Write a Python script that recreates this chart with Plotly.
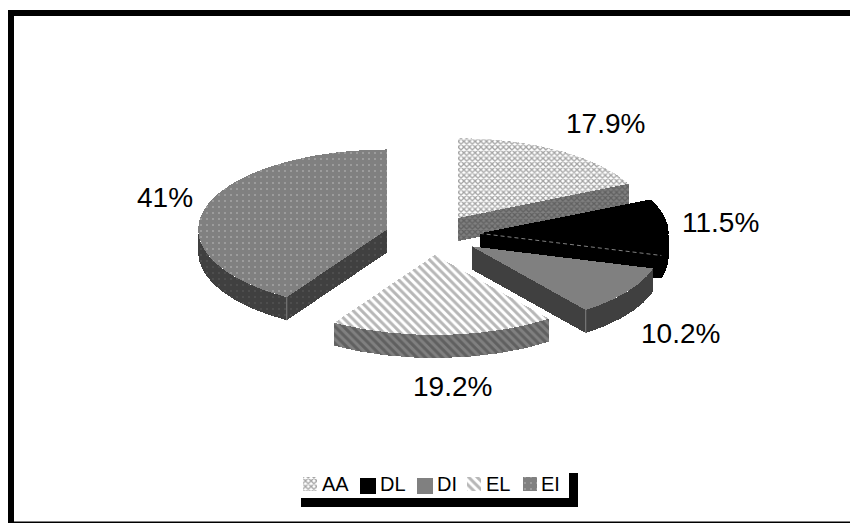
import numpy as np
import plotly.graph_objects as go

# Shares of each group, in percent, clockwise from twelve o'clock
categories = ["AA", "DL", "DI", "EL", "EI"]
values = [17.9, 11.5, 10.2, 19.2, 41]

# Tilted pie geometry, in axis units
CX, CY = 432.6, 235.0
RX, RY = 189.0, 80.0
DEPTH = 23.0
EXPLODE = 0.25
W, H = 850, 523

DARK, MID = "#404040", "#808080"

# Fill for the top face and the side walls of each slice
top_fill = {
    "AA": dict(fillcolor="#ffffff", fillpattern=dict(shape="x", bgcolor="#ffffff", fgcolor="#484848", size=4, solidity=0.55)),
    "DL": dict(fillcolor="#000000"),
    "DI": dict(fillcolor=MID),
    "EL": dict(fillcolor="#ffffff", fillpattern=dict(shape="\\", bgcolor="#ffffff", fgcolor="#707070", size=6, solidity=0.5)),
    "EI": dict(fillcolor=MID, fillpattern=dict(shape=".", bgcolor=MID, fgcolor="#ffffff", size=6, solidity=0.06)),
}
side_fill = {
    "AA": dict(fillcolor=MID, fillpattern=dict(shape="x", bgcolor=MID, fgcolor=DARK, size=4, solidity=0.55)),
    "DL": dict(fillcolor="#000000"),
    "DI": dict(fillcolor=DARK),
    "EL": dict(fillcolor=MID, fillpattern=dict(shape="\\", bgcolor=MID, fgcolor=DARK, size=6, solidity=0.5)),
    "EI": dict(fillcolor=DARK, fillpattern=dict(shape=".", bgcolor=DARK, fgcolor=MID, size=6, solidity=0.06)),
}

# Percent label centres and legend layout, in axis units
label_pos = {"AA": (605, 123), "DL": (720, 222), "DI": (680, 333), "EL": (452, 386), "EI": (165, 197)}
legend_keys = {"AA": (303, 477, 14), "DL": (360, 478, 16), "DI": (417, 478, 16), "EL": (467, 477, 14), "EI": (523, 477, 14)}
legend_text = {"AA": 320, "DL": 378, "DI": 435, "EL": 484, "EI": 539}

fig = go.Figure()


def poly(xs, ys, style):
    fig.add_trace(go.Scatter(x=list(xs), y=list(ys), mode="lines", fill="toself",
                             line=dict(width=0), hoverinfo="skip", showlegend=False, **style))


def edge(xs, ys, color, dash="solid"):
    fig.add_trace(go.Scatter(x=list(xs), y=list(ys), mode="lines", hoverinfo="skip", showlegend=False,
                             line=dict(width=1, color=color, dash=dash)))


def rim(theta, ax, ay):
    return ax + RX * np.sin(theta), ay - RY * np.cos(theta)


# Slice angles follow the values; every slice moves out along its bisector
total = sum(values)
edges = np.radians(np.cumsum([0] + values) / total * 360)
slices = []
for name, a0, a1 in zip(categories, edges[:-1], edges[1:]):
    mid = (a0 + a1) / 2
    ax = CX + EXPLODE * RX * np.sin(mid)
    ay = CY - EXPLODE * RY * np.cos(mid)
    slices.append((name, a0, a1, ax, ay))

# Back slices first so the nearer ones overlap them
order = ["EI", "AA", "DL", "DI", "EL"]
for name, a0, a1, ax, ay in sorted(slices, key=lambda s: order.index(s[0])):
    # Flat cut faces that look towards the viewer
    for a in (a0, a1):
        facing = (a == a1 and np.sin(a) > 0) or (a == a0 and np.sin(a) < 0)
        if facing:
            rx_, ry_ = rim(a, ax, ay)
            poly([ax, rx_, rx_, ax, ax], [ay, ry_, ry_ + DEPTH, ay + DEPTH, ay], side_fill[name])
    # Curved outer wall on the front half of the ellipse
    lo, hi = max(a0, np.pi / 2), min(a1, 3 * np.pi / 2)
    if hi > lo:
        t = np.linspace(lo, hi, 80)
        px, py = rim(t, ax, ay)
        poly(np.r_[px, px[::-1], px[0]], np.r_[py, py[::-1] + DEPTH, py[0]], side_fill[name])
    # Top face
    t = np.linspace(a0, a1, 120)
    px, py = rim(t, ax, ay)
    poly(np.r_[ax, px, ax], np.r_[ay, py, ay], top_fill[name])
    # Fine edges where a cut face meets the outer wall
    if name == "DL":
        ex, ey = rim(a1, ax, ay)
        edge([ax, ex], [ay, ey], MID, "4px,3px")
    if name == "DI":
        ex, ey = rim(a1, ax, ay)
        edge([ex, ex], [ey, ey + DEPTH], MID)
    if name == "EI":
        ex, ey = rim(a0, ax, ay)
        edge([ex, ex], [ey, ey + DEPTH], MID)

annotations = []
for name, v in zip(categories, values):
    x, y = label_pos[name]
    annotations.append(dict(x=x, y=y, text=f"{v}%", showarrow=False, xanchor="center", yanchor="middle",
                            font=dict(family="Liberation Sans", size=28, color="#000000")))
    # Legend swatch and its name
    kx, ky, ks = legend_keys[name]
    poly([kx, kx + ks, kx + ks, kx, kx], [ky, ky, ky + ks, ky + ks, ky], top_fill[name])
    annotations.append(dict(x=legend_text[name], y=484, text=name, showarrow=False, xanchor="left", yanchor="middle",
                            font=dict(family="Liberation Sans", size=20, color="#000000")))

black = dict(type="rect", xref="x", yref="y", fillcolor="#000000", line_width=0, layer="below")
shapes = [
    {**black, "x0": 8, "x1": 14, "y0": 10, "y1": 523},
    {**black, "x0": 8, "x1": 850, "y0": 10, "y1": 16},
    {**black, "x0": 8, "x1": 850, "y0": 521.5, "y1": 523},
    {**black, "x0": 301, "x1": 578, "y0": 498, "y1": 507},
    {**black, "x0": 569, "x1": 578, "y0": 473, "y1": 507},
]

fig.update_layout(
    width=W, height=H, autosize=False,
    margin=dict(l=0, r=0, t=0, b=0),
    paper_bgcolor="#ffffff", plot_bgcolor="#ffffff",
    xaxis=dict(range=[0, W], visible=False, fixedrange=True),
    yaxis=dict(range=[H, 0], visible=False, fixedrange=True),
    showlegend=False, annotations=annotations, shapes=shapes,
)

fig.write_html("out.html", config=dict(displayModeBar=False),
               post_script="document.querySelectorAll('.js-fill').forEach(p=>p.setAttribute('shape-rendering','crispEdges'));")
